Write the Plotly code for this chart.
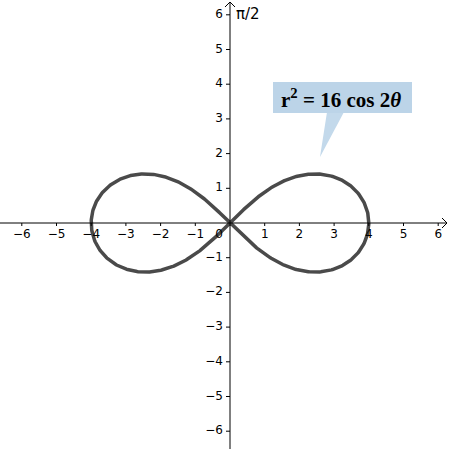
import numpy as np
import plotly.graph_objects as go

# ---- data ----
A_SQUARED = 16                      # r^2 = 16 cos 2θ
x_ticks = [-6, -5, -4, -3, -2, -1, 1, 2, 3, 4, 5, 6]
y_ticks = [-6, -5, -4, -3, -2, -1, 1, 2, 3, 4, 5, 6]
tick_labels_x = ["−6", "−5", "−4", "−3", "−2", "−1", "1", "2", "3", "4", "5", "6"]
tick_labels_y = ["−6", "−5", "−4", "−3", "−2", "−1", "1", "2", "3", "4", "5", "6"]
equation_text = "r<sup>2</sup> = 16 cos 2<i>θ</i>"
axis_label = "π/2"

# lemniscate curve r^2 = A cos(2θ), parametric form
a = np.sqrt(A_SQUARED)
t = np.linspace(0, 2 * np.pi, 721)
cx = a * np.cos(t) / (1 + np.sin(t) ** 2)
cy = a * np.sin(t) * np.cos(t) / (1 + np.sin(t) ** 2)

# ---- layout helpers ----
W = H = 449
OX, OY = 230, 223
S = 34.7
def X(px):
    return (px - OX) / S
def Y(py):
    return (OY - py) / S

XR = [X(0), X(W)]
YR = [Y(H), Y(0)]

fig = go.Figure()

fig.add_trace(go.Scatter(x=cx, y=cy, mode="lines",
                         line=dict(color="#4a4a4a", width=3.5),
                         hoverinfo="skip", showlegend=False))

fig.add_trace(go.Scatter(x=x_ticks, y=[Y(235)] * len(x_ticks), mode="text",
                         text=tick_labels_x, textposition="middle center",
                         textfont=dict(family="DejaVu Sans", size=12, color="black"),
                         hoverinfo="skip", showlegend=False))
fig.add_trace(go.Scatter(x=[X(223)] * len(y_ticks), y=y_ticks, mode="text",
                         text=tick_labels_y, textposition="middle left",
                         textfont=dict(family="DejaVu Sans", size=12, color="black"),
                         hoverinfo="skip", showlegend=False))
fig.add_trace(go.Scatter(x=[X(219)], y=[Y(235)], mode="text", text=["0"],
                         textposition="middle center",
                         textfont=dict(family="DejaVu Sans", size=12, color="black"),
                         hoverinfo="skip", showlegend=False))
fig.add_trace(go.Scatter(x=[X(236)], y=[Y(15)], mode="text", text=[axis_label],
                         textposition="middle right",
                         textfont=dict(family="DejaVu Sans", size=15, color="black"),
                         hoverinfo="skip", showlegend=False))

shapes = []
# axes
shapes.append(dict(type="line", x0=X(0), x1=X(447), y0=0, y1=0,
                   line=dict(color="black", width=1)))
shapes.append(dict(type="line", x0=0, x1=0, y0=Y(2), y1=Y(449),
                   line=dict(color="black", width=1)))
# arrowheads
shapes.append(dict(type="path",
                   path=f"M {X(442)} {Y(218)} L {X(447)} {Y(223)} L {X(442)} {Y(228)}",
                   line=dict(color="black", width=1)))
shapes.append(dict(type="path",
                   path=f"M {X(225)} {Y(7)} L {X(230)} {Y(2)} L {X(235)} {Y(7)}",
                   line=dict(color="black", width=1)))
# tick marks
for v in x_ticks:
    shapes.append(dict(type="line", x0=v, x1=v, y0=0, y1=Y(226),
                       line=dict(color="black", width=1)))
for v in y_ticks:
    shapes.append(dict(type="line", x0=X(226), x1=0, y0=v, y1=v,
                       line=dict(color="black", width=1)))
# callout box
box_color = "#bcd4e8"
shapes.append(dict(type="path",
                   path=f"M {X(327)} {Y(112)} L {X(344)} {Y(112)} L {X(320)} {Y(157)} Z",
                   fillcolor="#c3d9eb", line=dict(width=0)))
shapes.append(dict(type="rect", x0=X(273), x1=X(412), y0=Y(113), y1=Y(82),
                   fillcolor=box_color, line=dict(width=0)))

fig.update_layout(
    width=W, height=H,
    margin=dict(l=0, r=0, t=0, b=0),
    paper_bgcolor="white", plot_bgcolor="white",
    xaxis=dict(range=XR, visible=False, fixedrange=True),
    yaxis=dict(range=YR, visible=False, fixedrange=True),
    shapes=shapes,
    annotations=[dict(x=X(341), y=Y(98), xref="x", yref="y",
                      text=f"<b>{equation_text}</b>", showarrow=False,
                      font=dict(family="Liberation Serif", size=21, color="black"),
                      xanchor="center", yanchor="middle")],
    showlegend=False,
)

fig.write_html("out.html",
               config={"displayModeBar": False, "staticPlot": True},
               post_script="document.body.style.margin='0';document.body.style.overflow='hidden';")
